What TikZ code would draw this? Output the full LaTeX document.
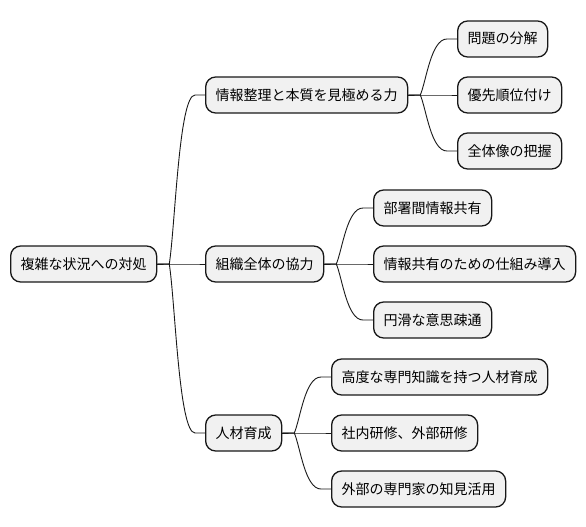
\documentclass[tikz,border=0pt]{standalone}
\usepackage{fontspec}
\setmainfont{Noto Sans CJK JP}
\usetikzlibrary{calc}
\definecolor{nodefill}{HTML}{F1F1F1}
\definecolor{nodeline}{HTML}{181818}
\tikzset{
  mmnode/.style={draw=nodeline, line width=1.3pt, fill=nodefill, rounded corners=10pt,
    anchor=west, inner xsep=10pt, inner ysep=0pt, minimum height=36pt,
    text height=12pt, text depth=2pt, font=\fontsize{14pt}{16pt}\selectfont},
  mmlink/.style={draw=nodeline, line width=0.9pt}
}
\newcommand\mmbranch[4]{% parent, child, branch coordinate, vertical control
  \coordinate (#2in) at ($(#2.west)+(-10,0)$);
  \draw[mmlink] (#1.east) -- (#3) .. controls +(6,#4) and +(-16,0) .. (#2in) -- (#2.west);
}
\begin{document}
\begin{tikzpicture}[x=1pt,y=-1pt]
\useasboundingbox (0,0) rectangle (586,527);
\node[mmnode] (root) at (10,264) {複雑な状況への対処};
\node[mmnode] (A) at (205,95) {情報整理と本質を見極める力};
\node[mmnode] (B) at (205,264) {組織全体の協力};
\node[mmnode] (C) at (205,433) {人材育成};
\node[mmnode] (A1) at (457,39) {問題の分解};
\node[mmnode] (A2) at (457,95) {優先順位付け};
\node[mmnode] (A3) at (457,151) {全体像の把握};
\node[mmnode] (B1) at (373,208) {部署間情報共有};
\node[mmnode] (B2) at (373,264) {情報共有のための仕組み導入};
\node[mmnode] (B3) at (373,320) {円滑な意思疎通};
\node[mmnode] (C1) at (331,377) {高度な専門知識を持つ人材育成};
\node[mmnode] (C2) at (331,433) {社内研修、外部研修};
\node[mmnode] (C3) at (331,489) {外部の専門家の知見活用};
\coordinate (broot) at ($(root.east)+(12,0)$);
\coordinate (bA) at ($(A.east)+(12,0)$);
\coordinate (bB) at ($(B.east)+(12,0)$);
\coordinate (bC) at ($(C.east)+(12,0)$);
\mmbranch{root}{A}{broot}{-40}
\mmbranch{root}{B}{broot}{0}
\mmbranch{root}{C}{broot}{40}
\mmbranch{A}{A1}{bA}{-14}
\mmbranch{A}{A2}{bA}{0}
\mmbranch{A}{A3}{bA}{14}
\mmbranch{B}{B1}{bB}{-14}
\mmbranch{B}{B2}{bB}{0}
\mmbranch{B}{B3}{bB}{14}
\mmbranch{C}{C1}{bC}{-14}
\mmbranch{C}{C2}{bC}{0}
\mmbranch{C}{C3}{bC}{14}
\end{tikzpicture}
\end{document}
